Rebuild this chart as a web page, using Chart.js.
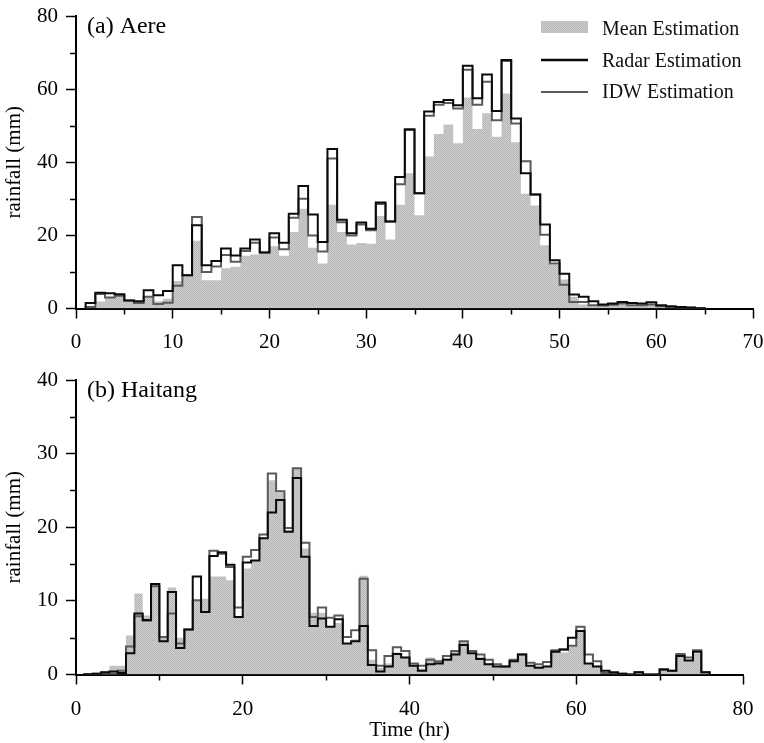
<!DOCTYPE html>
<html>
<head>
<meta charset="utf-8">
<script src="https://cdn.jsdelivr.net/npm/chart.js@4/dist/chart.umd.min.js"></script>
<style>
  html, body { margin: 0; padding: 0; background: #fff; }
  #wrap { position: relative; width: 764px; height: 743px; }
  #wrap canvas { position: absolute; left: 0; }
</style>
</head>
<body>
<div id="wrap">
  <canvas id="aere" width="764" height="360" style="top:0"></canvas>
  <canvas id="haitang" width="764" height="383" style="top:360px"></canvas>
</div>
<script>
// Hourly rainfall (mm); each value covers [start + i, start + i + 1) hours.
const aereStart = 1;
const aereRadar = [
  1.5, 4.3, 4.2, 3.9, 2.2, 2.0, 5.0, 3.6, 4.8, 11.8,
  9.1, 22.8, 11.8, 13.0, 16.4, 14.5, 16.4, 18.9, 15.3, 20.6,
  18.0, 25.9, 33.5, 25.7, 18.2, 43.6, 24.3, 20.6, 23.5, 21.8,
  29.0, 23.8, 36.0, 49.0, 31.5, 53.9, 56.5, 57.0, 55.6, 66.4,
  57.5, 64.0, 54.0, 68.0, 52.0, 37.0, 31.2, 23.0, 13.2, 9.5,
  3.8, 3.2, 2.0, 1.1, 1.4, 1.8, 1.5, 1.4, 1.7, 0.9,
  0.6, 0.4, 0.3, 0.1
];
const aereIDW = [
  0.4, 4.0, 3.0, 3.5, 2.2, 1.5, 3.2, 1.2, 1.6, 6.2,
  9.1, 25.0, 10.0, 11.5, 14.6, 12.8, 15.7, 18.0, 15.3, 19.4,
  16.2, 24.8, 30.0, 20.0, 15.6, 41.0, 23.6, 20.0, 23.0, 21.4,
  28.6, 23.8, 34.0, 48.8, 31.5, 52.7, 55.7, 56.2, 54.7, 65.3,
  55.7, 62.0, 51.5, 67.7, 50.6, 40.3, 31.2, 20.2, 12.3, 6.5,
  1.8, 1.8, 0.9, 0.8, 1.0, 1.4, 0.9, 0.9, 1.1, 0.6,
  0.4, 0.3, 0.2, 0.1
];
const aereMean = [
  0.3, 1.9, 3.0, 3.4, 2.0, 1.6, 3.0, 2.0, 2.7, 7.5,
  8.8, 18.5, 7.7, 7.7, 11.0, 11.4, 14.4, 14.8, 15.0, 17.0,
  14.4, 20.9, 27.3, 16.6, 12.3, 28.4, 20.9, 17.5, 17.9, 17.7,
  25.3, 18.9, 28.4, 37.0, 25.5, 41.6, 47.7, 50.3, 45.2, 57.7,
  49.1, 53.4, 47.0, 58.8, 45.5, 31.4, 28.2, 17.3, 12.0, 7.9,
  3.2, 1.1, 0.9, 0.8, 1.0, 1.2, 0.9, 0.9, 1.0, 0.6,
  0.4, 0.3, 0.2, 0.1
];

const haitangStart = 1;
const haitangRadar = [
  0.05, 0.1, 0.3, 0.4, 0.2, 2.9, 8.3, 7.4, 12.3, 4.5,
  11.2, 3.6, 6.1, 13.3, 8.5, 16.1, 16.6, 14.9, 7.8, 15.2,
  15.5, 18.5, 22.0, 23.7, 19.4, 26.7, 16.0, 6.6, 7.6, 6.5,
  7.5, 4.2, 4.5, 6.6, 1.3, 0.4, 1.1, 2.8, 2.3, 1.2,
  0.5, 1.4, 1.5, 2.0, 2.7, 4.0, 2.9, 2.1, 1.4, 1.1,
  1.1, 1.8, 2.7, 1.2, 0.9, 1.1, 3.1, 3.4, 5.0, 5.9,
  1.5, 1.1, 0.5, 0.3, 0.1, 0.0, 0.3, 0.0, 0.0, 0.7,
  0.5, 2.5, 1.9, 3.1, 0.3
];
const haitangIDW = [
  0.05, 0.1, 0.1, 0.1, 0.5, 3.8, 7.9, 7.3, 12.0, 5.1,
  8.3, 4.2, 6.1, 10.1, 8.5, 16.8, 16.4, 14.6, 9.1, 16.0,
  16.9, 19.0, 27.3, 24.9, 19.9, 28.0, 17.9, 7.8, 9.1, 7.7,
  8.0, 5.1, 6.0, 13.0, 3.3, 1.2, 2.5, 3.7, 3.2, 1.5,
  1.2, 2.0, 1.8, 2.5, 3.2, 4.5, 3.2, 2.7, 2.0, 1.4,
  1.1, 2.0, 2.7, 1.6, 1.4, 1.7, 3.3, 3.4, 3.9, 6.5,
  2.7, 1.8, 0.2, 0.2, 0.1, 0.0, 0.3, 0.0, 0.0, 0.6,
  0.5, 2.8, 2.3, 3.3, 0.3
];
const haitangMean = [
  0.0, 0.1, 0.5, 1.2, 1.2, 5.3, 11.0, 8.0, 12.3, 5.0,
  11.8, 5.0, 6.1, 10.1, 10.3, 13.3, 13.3, 12.8, 7.8, 14.4,
  15.5, 18.5, 26.4, 24.7, 19.6, 28.0, 17.1, 8.4, 8.4, 6.5,
  7.0, 4.2, 4.8, 13.4, 2.0, 0.9, 1.5, 3.0, 2.4, 1.3,
  0.8, 2.3, 1.8, 2.2, 3.3, 4.5, 2.9, 2.4, 1.5, 1.1,
  1.0, 1.8, 2.5, 1.3, 1.1, 1.2, 3.1, 3.0, 3.8, 6.0,
  1.5, 1.2, 0.3, 0.1, 0.1, 0.0, 0.2, 0.0, 0.0, 0.5,
  0.4, 2.5, 2.0, 2.9, 0.2
];

const seriesNames = ['Mean Estimation', 'Radar Estimation', 'IDW Estimation'];

const FONT = "'Liberation Serif', 'Times New Roman', serif";
const RADAR_COLOR = '#0a0a0a';
const IDW_COLOR = '#5a5a5a';

// Fine stipple used for the mean-estimation fill
function makeStipple() {
  const c = document.createElement('canvas');
  c.width = 2; c.height = 2;
  const g = c.getContext('2d');
  g.fillStyle = '#cccccc'; g.fillRect(0, 0, 2, 2);
  g.fillStyle = '#b9b9b9'; g.fillRect(0, 0, 1, 1); g.fillRect(1, 1, 1, 1);
  return g.createPattern(c, 'repeat');
}
const stipple = makeStipple();

// Histogram outline: rise from zero at the first edge, hold each hour, drop to zero at the end
function steps(start, vals) {
  const pts = [{ x: start, y: 0 }];
  vals.forEach((v, i) => pts.push({ x: start + i, y: v }));
  pts.push({ x: start + vals.length, y: 0 });
  return pts;
}

// Short unlabeled ticks between the labeled ones, plus the panel caption
function panelDecor(caption, captionY, xMinor, yMinor, withLegend) {
  return {
    id: 'panelDecor',
    afterDraw(chart) {
      const { ctx, chartArea: a, scales } = chart;
      ctx.save();
      ctx.strokeStyle = '#000';
      ctx.lineWidth = 1.5;
      ctx.beginPath();
      xMinor.forEach(v => {
        const px = Math.round(scales.x.getPixelForValue(v)) + 0.5;
        ctx.moveTo(px, a.bottom); ctx.lineTo(px, a.bottom + 6);
      });
      yMinor.forEach(v => {
        const py = Math.round(scales.y.getPixelForValue(v)) + 0.5;
        ctx.moveTo(a.left - 6, py); ctx.lineTo(a.left, py);
      });
      ctx.stroke();

      ctx.fillStyle = '#000';
      ctx.font = '24px ' + FONT;
      ctx.textBaseline = 'alphabetic';
      ctx.textAlign = 'left';
      ctx.fillText(caption, a.left + 11, captionY);

      if (withLegend) {
        const x0 = 541, x1 = 588, tx = 602;
        ctx.fillStyle = stipple;
        ctx.fillRect(x0, 21, x1 - x0, 12);
        ctx.lineWidth = 2.5;
        ctx.strokeStyle = RADAR_COLOR;
        ctx.beginPath(); ctx.moveTo(x0, 60); ctx.lineTo(x1, 60); ctx.stroke();
        ctx.lineWidth = 2;
        ctx.strokeStyle = IDW_COLOR;
        ctx.beginPath(); ctx.moveTo(x0, 92); ctx.lineTo(x1, 92); ctx.stroke();
        ctx.fillStyle = '#111';
        ctx.font = '20px ' + FONT;
        ctx.fillText(seriesNames[0], tx, 35);
        ctx.fillText(seriesNames[1], tx, 66.5);
        ctx.fillText(seriesNames[2], tx, 98);
      }
      ctx.restore();
    }
  };
}

function makePanel(id, cfg) {
  const tickFont = { family: FONT, size: 21 };
  const datasets = [
    {
      label: seriesNames[0], data: steps(cfg.start, cfg.mean), stepped: true,
      borderWidth: 0, borderColor: 'rgba(0,0,0,0)', backgroundColor: stipple,
      fill: 'origin', pointRadius: 0, order: 3
    },
    {
      label: seriesNames[2], data: steps(cfg.start, cfg.idw), stepped: true,
      borderWidth: 2, borderColor: IDW_COLOR, fill: false, pointRadius: 0, order: 2
    },
    {
      label: seriesNames[1], data: steps(cfg.start, cfg.radar), stepped: true,
      borderWidth: 2, borderColor: RADAR_COLOR, fill: false, pointRadius: 0, order: 1
    }
  ];
  return new Chart(document.getElementById(id), {
    type: 'line',
    data: { datasets },
    options: {
      responsive: false,
      animation: false,
      devicePixelRatio: 1,
      layout: { padding: { top: cfg.padTop, right: cfg.padRight, left: 0, bottom: 0 } },
      plugins: { legend: { display: false }, tooltip: { enabled: false } },
      elements: { line: { tension: 0, borderJoinStyle: 'miter', borderCapStyle: 'butt' } },
      scales: {
        x: {
          type: 'linear', min: 0, max: cfg.xMax,
          ticks: { stepSize: cfg.xStep, font: tickFont, color: '#000', padding: cfg.xTickPad, maxRotation: 0 },
          grid: { drawOnChartArea: false, drawTicks: true, tickLength: 10, tickColor: '#000', tickWidth: 1.5 },
          border: { display: true, color: '#000', width: 2 },
          title: cfg.xTitle
            ? { display: true, text: cfg.xTitle, font: { family: FONT, size: 21 }, color: '#000', padding: { top: 0, bottom: 0 } }
            : { display: false },
          afterFit(s) { s.height = cfg.xHeight; s.paddingLeft = 0; s.paddingRight = 0; }
        },
        y: {
          type: 'linear', min: 0, max: cfg.yMax,
          ticks: { stepSize: cfg.yStep, font: tickFont, color: '#000', padding: 8 },
          grid: { drawOnChartArea: false, drawTicks: true, tickLength: 10, tickColor: '#000', tickWidth: 1.5 },
          border: { display: true, color: '#000', width: 2 },
          title: { display: true, text: 'rainfall (mm)', font: { family: FONT, size: 21 }, color: '#000', padding: { top: 2, bottom: 0 } },
          afterFit(s) { s.width = 76; s.paddingTop = 0; s.paddingBottom = 0; }
        }
      }
    },
    plugins: [panelDecor(cfg.caption, cfg.captionY, cfg.xMinor, cfg.yMinor, cfg.legend)]
  });
}

makePanel('aere', {
  start: aereStart, radar: aereRadar, idw: aereIDW, mean: aereMean,
  xMax: 70, xStep: 10, yMax: 80, yStep: 20,
  xMinor: [5, 15, 25, 35, 45, 55, 65], yMinor: [10, 30, 50, 70],
  padTop: 16, padRight: 11, xHeight: 51.5, xTickPad: 11,
  caption: '(a) Aere', captionY: 33, legend: true, xTitle: null
});

makePanel('haitang', {
  start: haitangStart, radar: haitangRadar, idw: haitangIDW, mean: haitangMean,
  xMax: 80, xStep: 20, yMax: 40, yStep: 10,
  xMinor: [10, 30, 50, 70], yMinor: [5, 15, 25, 35],
  padTop: 20, padRight: 21, xHeight: 68.5, xTickPad: 12,
  caption: '(b) Haitang', captionY: 37, legend: false, xTitle: 'Time (hr)'
});
</script>
</body>
</html>
